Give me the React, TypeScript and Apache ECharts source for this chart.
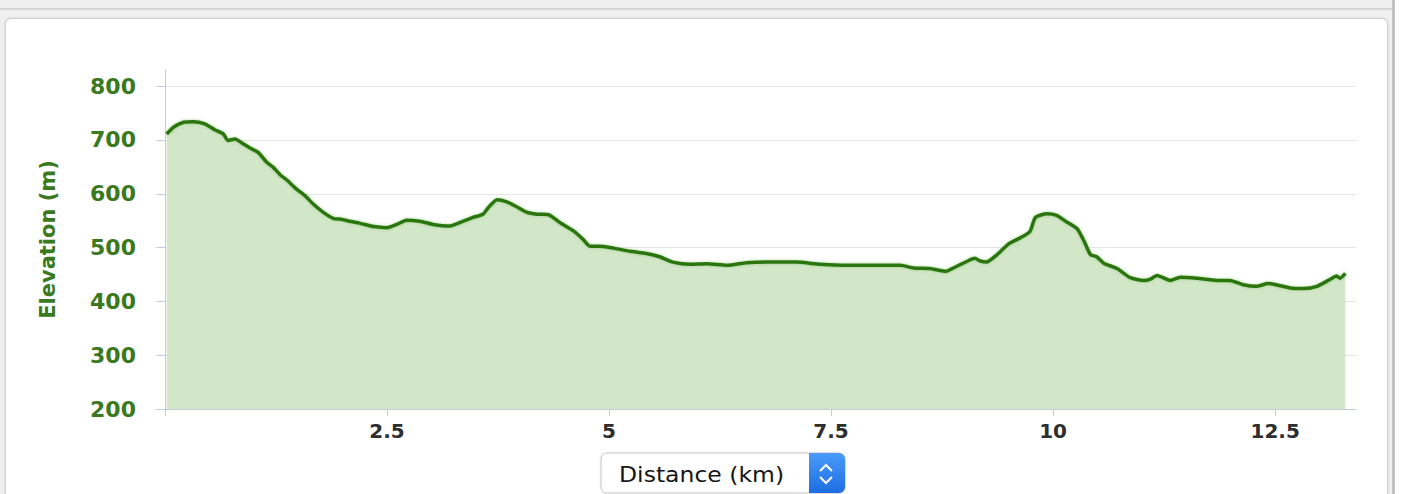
import React, { useEffect, useRef } from "react";
import * as echarts from "echarts";

const distanceKm: number[] = [
  0.02, 0.1, 0.21, 0.32, 0.45, 0.56, 0.66, 0.71, 0.79, 0.88, 0.98, 1.05, 1.15, 1.22, 1.3, 1.37, 1.48, 1.58,
  1.67, 1.78, 1.9, 1.97, 2.08, 2.2, 2.35, 2.5, 2.61, 2.72, 2.87, 3.02, 3.21, 3.36, 3.47, 3.58, 3.64, 3.74,
  3.85, 3.96, 4.07, 4.19, 4.32, 4.45, 4.6, 4.71, 4.78, 4.94, 5.05, 5.24, 5.42, 5.57, 5.72, 5.91, 6.1, 6.33,
  6.55, 6.78, 7.11, 7.38, 7.68, 7.98, 8.28, 8.43, 8.61, 8.8, 8.84, 8.95, 9.05, 9.12, 9.18, 9.25, 9.37, 9.5,
  9.63, 9.74, 9.8, 9.93, 10.04, 10.14, 10.27, 10.34, 10.42, 10.49, 10.57, 10.72, 10.87, 11.02, 11.09, 11.17,
  11.32, 11.43, 11.62, 11.84, 11.99, 12.14, 12.29, 12.42, 12.51, 12.67, 12.82, 12.97, 13.12, 13.19, 13.23, 13.29,
];

const elevationM: number[] = [
  711, 724, 733, 734, 730, 719, 711, 699, 702, 693, 683, 677, 658, 649, 635, 626, 609, 596,
  581, 566, 554, 553, 549, 545, 539, 537, 543, 551, 549, 543, 540, 549, 556, 562, 574, 589,
  585, 576, 566, 562, 561, 546, 531, 515, 503, 502, 499, 493, 489, 483, 473, 469, 470, 467,
  472, 473, 473, 469, 467, 467, 467, 462, 461, 456, 459, 468, 476, 480, 475, 473, 487, 507,
  518, 530, 556, 563, 560, 549, 535, 515, 487, 483, 471, 461, 444, 439, 441, 448,
  439, 445, 443, 439, 439, 431, 428, 433, 431, 425, 424, 428, 441, 447, 443, 452,
];

const xTickValues: number[] = [0, 2.5, 5, 7.5, 10, 12.5];
const xLabelValues: number[] = [2.5, 5, 7.5, 10, 12.5];
const yTickValues: number[] = [200, 300, 400, 500, 600, 700, 800];

const yAxisTitle = "Elevation (m)";
const selectLabel = "Distance (km)";

export default function App() {
  const ref = useRef<HTMLDivElement>(null);

  useEffect(() => {
    if (!ref.current) return;
    const chart = echarts.init(ref.current, undefined, { renderer: "svg" });
    const green = "#3a7a1e";
    const axisColor = "#c0cbe0";
    const data = distanceKm.map((d, i) => [d, elevationM[i]]);
    chart.setOption({
      animation: false,
      backgroundColor: "transparent",
      grid: { left: 156, right: 47, top: 70, bottom: 85, containLabel: false },
      xAxis: {
        type: "value",
        min: -0.1,
        max: 13.41,
        axisLine: { show: true, lineStyle: { color: axisColor, width: 1 } },
        axisTick: { show: true, length: 7, customValues: xTickValues, lineStyle: { color: axisColor } },
        axisLabel: {
          customValues: xLabelValues,
          formatter: (v: number) => String(v),
          margin: 12,
          color: "#2e2e2e",
          fontWeight: "bold",
          fontSize: 20,
          fontFamily: "DejaVu Sans",
        },
        splitLine: { show: false },
      },
      yAxis: {
        type: "value",
        min: 200,
        max: 830,
        name: yAxisTitle,
        nameLocation: "middle",
        nameGap: 98,
        nameTextStyle: { color: green, fontWeight: "bold", fontSize: 21, fontFamily: "DejaVu Sans" },
        axisLine: { show: true, lineStyle: { color: axisColor, width: 1 } },
        axisTick: { show: true, length: 8, customValues: yTickValues, lineStyle: { color: axisColor } },
        axisLabel: {
          customValues: yTickValues,
          margin: 20,
          color: green,
          fontWeight: "bold",
          fontSize: 22,
          fontFamily: "DejaVu Sans",
        },
        splitLine: { show: true, lineStyle: { color: "#e6e6e6", width: 1 } },
      },
      series: [
        {
          type: "line",
          data,
          showSymbol: false,
          smooth: 0.2,
          lineStyle: { color: "#2a7510", width: 3.5, shadowColor: "rgba(110,190,80,0.6)", shadowBlur: 3 },
          areaStyle: { color: "#d2e6c8", opacity: 1 },
          z: 3,
        },
      ],
      graphic: [
        {
          type: "rect",
          shape: { x: 601, y: 453, width: 244, height: 40, r: 6 },
          style: { fill: "#ffffff", stroke: "#c6c6c6", lineWidth: 1, shadowColor: "rgba(0,0,0,0.12)", shadowBlur: 2 },
          z: 10,
        },
        {
          type: "rect",
          shape: { x: 809, y: 453, width: 36, height: 40, r: [0, 6, 6, 0] },
          style: {
            fill: new echarts.graphic.LinearGradient(0, 0, 0, 1, [
              { offset: 0, color: "#4a9bfa" },
              { offset: 1, color: "#1d6de2" },
            ]),
          },
          z: 11,
        },
        {
          type: "polyline",
          shape: { points: [[820, 471], [826, 465], [832, 471]] },
          style: { stroke: "#ffffff", lineWidth: 2, fill: null },
          z: 12,
        },
        {
          type: "polyline",
          shape: { points: [[820, 477], [826, 483], [832, 477]] },
          style: { stroke: "#ffffff", lineWidth: 2, fill: null },
          z: 12,
        },
        {
          type: "text",
          x: 619,
          y: 474,
          scaleX: 1.12,
          style: {
            text: selectLabel,
            fill: "#161616",
            font: "21px 'DejaVu Sans'",
            verticalAlign: "middle",
            align: "left",
          },
          z: 12,
        },
      ],
    });
    return () => chart.dispose();
  }, []);

  return (
    <div style={{ position: "fixed", left: 0, top: 0, width: 1403, height: 494, background: "#ffffff", overflow: "hidden" }}>
      <div style={{ position: "absolute", left: 0, top: 0, width: 1393, height: 494, background: "#efefef" }} />
      <div style={{ position: "absolute", left: 0, top: 8, width: 1393, height: 2, background: "#d6d6d6" }} />
      <div style={{ position: "absolute", left: 1392, top: 0, width: 3, height: 494, background: "#c2c2c2" }} />
      <div
        style={{
          position: "absolute",
          left: 5,
          top: 18,
          width: 1381,
          height: 500,
          background: "#ffffff",
          border: "1px solid #cfcfcf",
          borderRadius: 6,
          boxShadow: "0 0 2px rgba(0,0,0,0.15)",
        }}
      />
      <div ref={ref} style={{ position: "absolute", left: 0, top: 0, width: 1403, height: 494 }} />
    </div>
  );
}
